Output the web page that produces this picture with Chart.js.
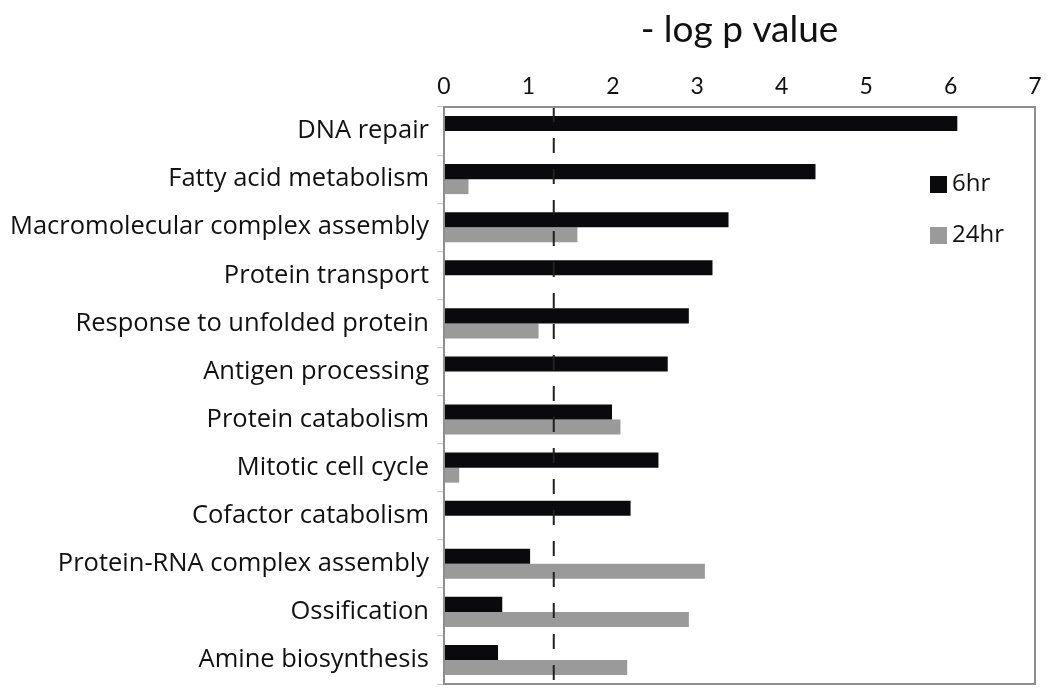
<!DOCTYPE html>
<html>
<head>
<meta charset="utf-8">
<script src="https://cdn.jsdelivr.net/npm/chart.js@4.4.1/dist/chart.umd.min.js"></script>
<style>
html,body{margin:0;padding:0;background:#fff;}
#wrap{width:1050px;height:697px;}
</style>
</head>
<body>
<div id="wrap"><canvas id="c" width="1050" height="697"></canvas></div>
<script>
const categories = [
  "DNA repair",
  "Fatty acid metabolism",
  "Macromolecular complex assembly",
  "Protein transport",
  "Response to unfolded protein",
  "Antigen processing",
  "Protein catabolism",
  "Mitotic cell cycle",
  "Cofactor catabolism",
  "Protein-RNA complex assembly",
  "Ossification",
  "Amine biosynthesis"
];
const values6hr  = [6.08, 4.40, 3.37, 3.18, 2.90, 2.65, 1.99, 2.54, 2.21, 1.02, 0.69, 0.64];
const values24hr = [null, 0.29, 1.58, null, 1.12, null, 2.09, 0.18, null, 3.09, 2.90, 2.17];
const seriesNames = ["6hr", "24hr"];
const xTicks = [0, 1, 2, 3, 4, 5, 6, 7];
const threshold = 1.3;
const axisTitle = "- log p value";

const FONT = "'Open Sans', sans-serif";
const TFONT = "Lato, 'Open Sans', sans-serif";

const framePlugin = {
  id: 'frame',
  afterDatasetsDraw(chart) {
    const {ctx, chartArea: a, scales} = chart;
    ctx.save();
    const x = scales.x.getPixelForValue(threshold);
    ctx.strokeStyle = '#222';
    ctx.lineWidth = 2;
    ctx.setLineDash([15, 16]);
    ctx.beginPath();
    ctx.moveTo(x, a.top);
    ctx.lineTo(x, a.bottom + 5);
    ctx.stroke();
    ctx.setLineDash([]);
    ctx.strokeStyle = '#8e8e8e';
    ctx.lineWidth = 2;
    ctx.strokeRect(a.left, a.top, a.right - a.left, a.bottom - a.top);
    const ds = chart.data.datasets;
    const bx = a.right - 105;
    let by = a.top + 69;
    ctx.font = "24px " + FONT;
    ctx.textBaseline = 'middle';
    ctx.textAlign = 'left';
    ds.forEach((d) => {
      ctx.fillStyle = d.backgroundColor;
      ctx.fillRect(bx, by, 17, 17);
      ctx.fillStyle = '#111';
      ctx.fillText(d.label, bx + 22, by + 8);
      by += 51;
    });
    ctx.restore();
  }
};

new Chart(document.getElementById('c'), {
  type: 'bar',
  data: {
    labels: categories,
    datasets: [
      {label: seriesNames[0], data: values6hr, backgroundColor: '#0a0a0c'},
      {label: seriesNames[1], data: values24hr, backgroundColor: '#9a9a9a'}
    ]
  },
  options: {
    indexAxis: 'y',
    responsive: false,
    animation: false,
    devicePixelRatio: 1,
    layout: {padding: {top: 0, right: 15, bottom: 13, left: 0}},
    datasets: {bar: {barPercentage: 1.0, categoryPercentage: 0.625}},
    plugins: {
      legend: {display: false},
      tooltip: {enabled: false},
      title: {display: false}
    },
    scales: {
      x: {
        position: 'top',
        min: 0,
        max: 7,
        afterBuildTicks(s) { s.ticks = xTicks.map(v => ({value: v})); },
        afterFit(s) { s.height = 107; s.paddingLeft = 0; s.paddingRight = 0; },
        grid: {display: false, drawTicks: false},
        border: {display: false},
        ticks: {
          padding: 7,
          color: '#111',
          font: {size: 23, family: TFONT}
        },
        title: {
          display: true,
          text: axisTitle,
          color: '#111',
          font: {size: 37, family: TFONT},
          padding: {top: 8, bottom: 0}
        }
      },
      y: {
        offset: true,
        afterFit(s) { s.width = 444; s.paddingTop = 0; s.paddingBottom = 0; },
        grid: {display: true, drawOnChartArea: false, offset: true, tickLength: 7, color: '#c8c8c8'},
        border: {display: false},
        ticks: {
          padding: 8,
          color: '#111',
          font: {size: 25.5, family: FONT}
        }
      }
    }
  },
  plugins: [framePlugin]
});
</script>
</body>
</html>
